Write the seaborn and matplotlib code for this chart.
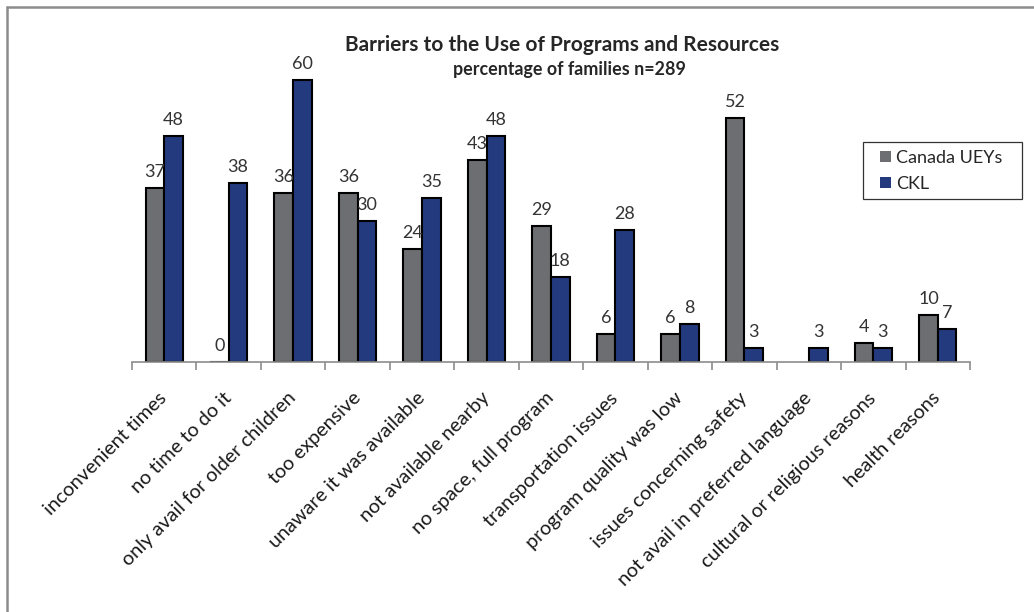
import matplotlib
matplotlib.use("Agg")
import matplotlib.pyplot as plt
from matplotlib.patches import Patch, Rectangle
from matplotlib.lines import Line2D
import numpy as np
import pandas as pd
import seaborn as sns

sns.set_theme(style="white")
plt.rcParams['font.family'] = ['Lato', 'DejaVu Sans']

# data
barriers = ["inconvenient times", "no time to do it", "only avail for older children",
            "too expensive", "unaware it was available", "not available nearby",
            "no space, full program", "transportation issues", "program quality was low",
            "issues concerning safety", "not avail in preferred language",
            "cultural or religious reasons", "health reasons"]
canada = [37, 0, 36, 36, 24, 43, 29, 6, 6, 52, np.nan, 4, 10]
ckl = [48, 38, 60, 30, 35, 48, 18, 28, 8, 3, 3, 3, 7]
series = ["Canada UEYs", "CKL"]
colors = ["#6d6e72", "#233a7e"]

df = pd.DataFrame({
    "barrier": barriers * 2,
    "group": [series[0]] * len(barriers) + [series[1]] * len(barriers),
    "pct": canada + ckl,
})

W, H = 1034, 612
fig = plt.figure(figsize=(W / 100, H / 100), dpi=100)
ax = fig.add_axes([132 / W, 1 - 362 / H, 838 / W, 329 / H])

sns.barplot(data=df, x="barrier", y="pct", hue="group", order=barriers,
            hue_order=series, palette=colors, width=0.58, gap=0,
            edgecolor="black", linewidth=1.5, saturation=1, ax=ax, legend=False)

# value labels (seaborn drops the NaN bar, so match bars by position)
for cont, vals in zip(ax.containers, [canada, ckl]):
    for bar in cont:
        cx = bar.get_x() + bar.get_width() / 2
        v = vals[int(round(cx))]
        if np.isnan(v):
            continue
        ax.text(cx, v + 3.4, f"{int(v)}",
                ha="center", va="center", fontsize=13, color="#333333")

ax.set_ylim(0, 70)
ax.set_xlim(-0.5, len(barriers) - 0.5)
ax.set_xlabel("")
ax.set_ylabel("")
ax.set_yticks([])
for s in ["top", "right", "left"]:
    ax.spines[s].set_visible(False)
ax.spines["bottom"].set_color("#8c8c8c")
ax.spines["bottom"].set_linewidth(1.2)

ax.set_xticks(np.arange(len(barriers)))
ax.set_xticklabels(barriers, rotation=45, ha="right", va="center",
                   rotation_mode="anchor", fontsize=14.3, color="#1a1a1a")
ax.tick_params(axis="x", which="major", length=0, pad=24)
ax.set_xticks(np.arange(-0.5, len(barriers)), minor=True)
ax.tick_params(axis="x", which="minor", length=6, width=1.2, color="#8c8c8c",
               direction="out", bottom=True)

fig.text(562 / W, 1 - 45 / H, "Barriers to the Use of Programs and Resources",
         ha="center", va="center", fontsize=15, fontweight="bold")
fig.text(569 / W, 1 - 70 / H, "percentage of families n=289",
         ha="center", va="center", fontsize=12.9, fontweight="bold")

# legend: box drawn separately to match the reference proportions
fig.add_artist(Rectangle((863 / W, 1 - 199 / H), 159 / W, 57 / H,
                         transform=fig.transFigure, facecolor="white",
                         edgecolor="#333333", linewidth=0.9))
handles = [Patch(facecolor=c, edgecolor="none") for c in colors]
leg = fig.legend(handles, series, loc="center left",
                 bbox_to_anchor=(880 / W, 1 - 171 / H), fontsize=13,
                 frameon=False, handlelength=0.6, handleheight=0.6,
                 handletextpad=0.3, borderpad=0, labelspacing=0.55,
                 borderaxespad=0)

# figure border (left and top visible)
fig.add_artist(Line2D([7 / W, 7 / W], [0, 1 - 7 / H], color="#8c8c8c",
                      linewidth=1.8, transform=fig.transFigure))
fig.add_artist(Line2D([7 / W, 1], [1 - 7 / H, 1 - 7 / H], color="#8c8c8c",
                      linewidth=1.8, transform=fig.transFigure))

fig.savefig("out.png", dpi=100)
